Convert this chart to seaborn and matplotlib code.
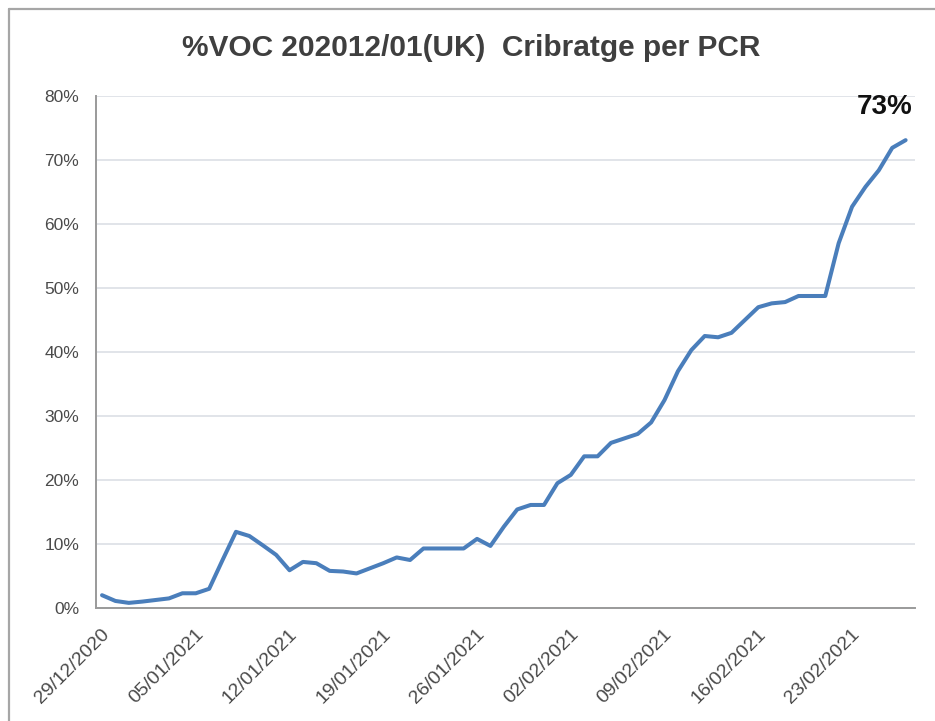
import matplotlib
matplotlib.use("Agg")
import matplotlib.pyplot as plt
import matplotlib.transforms as mtransforms
import seaborn as sns
import pandas as pd
import numpy as np
from matplotlib.lines import Line2D

# ---- data ----
start_date = "2020-12-29"
voc_pct = [2.0, 1.1, 0.8, 1.0, 1.25, 1.5, 2.3, 2.3, 3.0, 7.5,
           11.9, 11.25, 9.8, 8.3, 5.9, 7.2, 7.0, 5.8, 5.7, 5.4,
           6.2, 7.0, 7.9, 7.5, 9.3, 9.3, 9.3, 9.3, 10.8, 9.7,
           12.7, 15.4, 16.1, 16.1, 19.5, 20.8, 23.7, 23.7, 25.8, 26.5,
           27.2, 29.0, 32.5, 37.0, 40.3, 42.5, 42.3, 43.0, 45.0, 47.0,
           47.6, 47.8, 48.75, 48.75, 48.75, 57.0, 62.7, 65.8, 68.4, 71.9,
           73.1]
tick_labels = ["29/12/2020", "05/01/2021", "12/01/2021", "19/01/2021",
               "26/01/2021", "02/02/2021", "09/02/2021", "16/02/2021",
               "23/02/2021"]
y_ticks = [0, 10, 20, 30, 40, 50, 60, 70, 80]
title = "%VOC 202012/01(UK)  Cribratge per PCR"
end_label = "73%"

dates = pd.date_range(start_date, periods=len(voc_pct), freq="D")
df = pd.DataFrame({"day": np.arange(len(voc_pct)), "pct": voc_pct, "date": dates})
tick_pos = [int(np.where(dates.strftime("%d/%m/%Y") == t)[0][0]) for t in tick_labels]

# ---- figure ----
sns.set_theme(style="white")
plt.rcParams["font.family"] = ["Liberation Sans", "DejaVu Sans"]

W, H, DPI = 935, 721, 100
fig = plt.figure(figsize=(W / DPI, H / DPI), dpi=DPI)
fig.patch.set_facecolor("white")

# chart frame (grey border top and left)
fig.add_artist(Line2D([9 / W, 1.0], [1 - 9 / H, 1 - 9 / H], transform=fig.transFigure,
                      color="#a6a6a6", lw=1.6))
fig.add_artist(Line2D([9 / W, 9 / W], [0.0, 1 - 9 / H], transform=fig.transFigure,
                      color="#a6a6a6", lw=1.6))

ax = fig.add_axes([96 / W, (H - 608) / H, (915 - 96) / W, (608 - 96) / H])

sns.lineplot(data=df, x="day", y="pct", ax=ax, color="#4A7EBB", linewidth=2.9,
             solid_joinstyle="round", solid_capstyle="round")

ax.set_xlim(-0.45, 60.7)
ax.set_ylim(0, 80)
ax.set_yticks(y_ticks)
ax.set_yticklabels([f"{v}%" for v in y_ticks], fontsize=12.5, color="#4a4a4a")
ax.set_xticks(tick_pos)
ax.set_xticklabels(tick_labels, fontsize=14, color="#4a4a4a",
                   rotation=45, ha="right", va="center", rotation_mode="anchor")
ax.tick_params(axis="x", length=0, pad=17)
ax.tick_params(axis="y", length=0, pad=12)
shift = mtransforms.ScaledTranslation(5 / DPI, 0, fig.dpi_scale_trans)
for lbl in ax.get_xticklabels():
    lbl.set_transform(lbl.get_transform() + shift)
ax.set_xlabel("")
ax.set_ylabel("")

ax.grid(axis="y", color="#d9dde3", linewidth=1.1)
ax.grid(axis="x", visible=False)
ax.set_axisbelow(True)
for s in ["top", "right"]:
    ax.spines[s].set_visible(False)
for s in ["left", "bottom"]:
    ax.spines[s].set_color("#9a9a9a")
    ax.spines[s].set_linewidth(1.4)

fig.text(471 / W, 1 - 48 / H, title, ha="center", va="center",
         fontsize=21.5, fontweight="bold", color="#3f3f3f")

ax.annotate(end_label, xy=(df["day"].iloc[-1], df["pct"].iloc[-1]),
            xytext=(-15, 24), textcoords="offset points",
            ha="center", va="center", fontsize=20, fontweight="bold", color="#111111")

fig.savefig("out.png", dpi=DPI, facecolor="white")
